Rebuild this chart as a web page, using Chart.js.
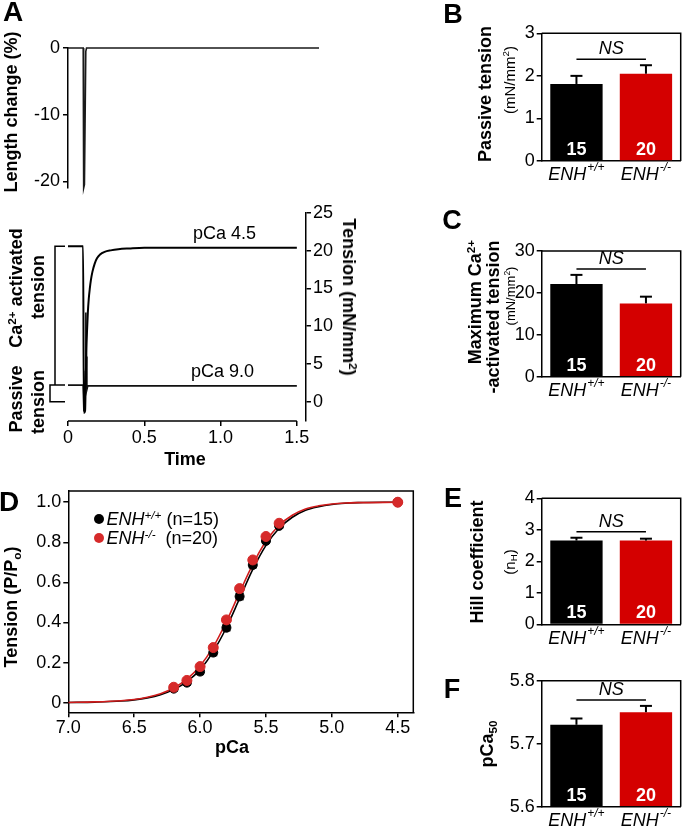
<!DOCTYPE html>
<html><head><meta charset="utf-8">
<script src="https://cdn.jsdelivr.net/npm/chart.js@4.4.1/dist/chart.umd.min.js"></script>
<style>
html,body{margin:0;padding:0;background:#fff;}
#wrap{position:relative;width:683px;height:830px;overflow:hidden;font-family:"Liberation Sans",Arial,Helvetica,sans-serif;color:#000;background:#fff;}
canvas{position:absolute;left:0;top:0;}
.lb{position:absolute;white-space:nowrap;line-height:1;transform-origin:center center;}
.lb sup{font-size:0.65em;vertical-align:0.55em;line-height:0;}
.lb sub{font-size:0.65em;vertical-align:-0.3em;line-height:0;}
.dot{position:absolute;border-radius:50%;}
</style></head>
<body><div id="wrap"></div>
<script>
// ---------------- DATA ----------------
// Panel A (top): length change trace
const timeLength   = [0, 0.100, 0.103, 0.108, 0.117, 0.122, 1.65];
const lengthChange = [0, 0, -21, -20.5, -0.5, 0, 0];
const lengthTicks  = [0, -10, -20];
// Panel A (bottom): tension traces
const timeActive    = [0, 0.099, 0.104, 0.112, 0.116, 0.120, 0.125, 0.130, 0.136, 0.143, 0.150, 0.160, 0.175, 0.190, 0.210, 0.240, 0.280, 0.330, 0.400, 0.500, 0.700, 1.000, 1.500];
const tensionActive = [20.6, 20.6, -1.5, -1.2, 2.5, 6.5, 9.5, 11.8, 13.6, 15.0, 16.1, 17.2, 18.3, 19.0, 19.5, 19.85, 20.05, 20.2, 20.3, 20.4, 20.4, 20.4, 20.4];
const timePassive    = [0, 0.099, 0.104, 0.110, 0.114, 0.117, 0.120, 0.124, 0.130, 1.500];
const tensionPassive = [2.2, 2.2, -1.3, -0.5, 4.0, 11.8, 6.0, 1.6, 2.1, 2.1];
const activeLevel = 20.6, passiveLevel = 2.2, zeroLevel = 0;
const tensionTicks = [0, 5, 10, 15, 20, 25];
const timeTicks    = [0, 0.5, 1.0, 1.5];
const traceLabels  = ['pCa 4.5', 'pCa 9.0'];

// Panel D: tension-pCa
const pCaPoints = [6.2, 6.1, 6.0, 5.9, 5.8, 5.7, 5.6, 5.5, 5.4, 4.5];
const wtTension = [0.07, 0.10, 0.155, 0.25, 0.374, 0.53, 0.687, 0.807, 0.882, 1.0];
const wtErr     = [0.012, 0.012, 0.014, 0.015, 0.015, 0.016, 0.014, 0.012, 0.010, 0.0];
const koTension = [0.077, 0.111, 0.18, 0.275, 0.413, 0.569, 0.712, 0.829, 0.895, 1.0];
const koErr     = [0.008, 0.008, 0.010, 0.010, 0.011, 0.011, 0.010, 0.009, 0.008, 0.0];
const curvePCa  = [7.0, 6.8, 6.6, 6.5, 6.4, 6.3, 6.2, 6.1, 6.0, 5.9, 5.8, 5.7, 5.6, 5.5, 5.4, 5.3, 5.2, 5.1, 5.0, 4.9, 4.8, 4.5];
const wtFit     = [0.001, 0.003, 0.008, 0.014, 0.024, 0.040, 0.065, 0.105, 0.165, 0.255, 0.375, 0.520, 0.665, 0.785, 0.870, 0.925, 0.960, 0.978, 0.989, 0.995, 0.998, 1.0];
const koFit     = [0.001, 0.004, 0.010, 0.016, 0.027, 0.045, 0.073, 0.117, 0.183, 0.278, 0.405, 0.550, 0.690, 0.805, 0.885, 0.935, 0.966, 0.982, 0.991, 0.996, 0.998, 1.0];
const pCaTicks  = [7.0, 6.5, 6.0, 5.5, 5.0, 4.5];
const relTicks  = [0, 0.2, 0.4, 0.6, 0.8, 1.0];

// Bar panels
const groups   = ['ENH+/+', 'ENH-/-'];
const nFibers  = [15, 20];
const passiveTension = [1.81, 2.05];  const passiveErr = [0.19, 0.20];
const maxTension     = [22.1, 17.5];  const maxErr     = [2.2, 1.6];
const hillCoef       = [2.66, 2.66];  const hillErr    = [0.09, 0.06];
const pCa50          = [5.73, 5.75];  const pCa50Err   = [0.01, 0.01];
const passiveTicks = [0, 1, 2, 3];
const maxTicks     = [0, 10, 20, 30];
const hillTicks    = [0, 1, 2, 3, 4];
const pCa50Ticks   = [5.6, 5.7, 5.8];
const sigLabel = 'NS';

// ---------------- HELPERS ----------------
const W = 683, H = 830;
const FONT = '"Liberation Sans", Arial, Helvetica, sans-serif';
Chart.defaults.font.family = FONT;
Chart.defaults.color = '#000';
Chart.defaults.animation = false;
const wrap = document.getElementById('wrap');
const BLACK = '#000000', RED_BAR = '#d40000', RED_PT = '#d62a2a', RED_LINE = '#d01c1c';

function mk() {
  const c = document.createElement('canvas');
  c.width = W; c.height = H; c.style.width = W + 'px'; c.style.height = H + 'px';
  wrap.appendChild(c); return c.getContext('2d');
}
function toPts(xs, ys) { return xs.map((x, i) => ({x: x, y: ys[i]})); }
function yAxis(min, max, ticks, fmt, yw, pos, pad) {
  return {
    type: 'linear', position: pos || 'left', min: min, max: max,
    afterBuildTicks: s => { s.ticks = ticks.map(v => ({value: v})); },
    afterFit: s => { s.width = yw; },
    border: {display: true, color: '#000', width: 1.5},
    grid: {display: true, drawOnChartArea: false, drawTicks: true, tickLength: 5, color: '#000', lineWidth: 1.5},
    ticks: {font: {size: 18}, color: '#000', padding: pad == null ? 3 : pad, callback: fmt}
  };
}
function line(ctx, x1, y1, x2, y2) { ctx.beginPath(); ctx.moveTo(x1, y1); ctx.lineTo(x2, y2); ctx.stroke(); }
function groupHTML(g) { const m = g.match(/^(.*?)([+\-]\/[+\-])$/); return '<i>' + m[1] + '</i><sup><i>' + m[2] + '</i></sup>'; }
function drawGroupLabel(ctx, g, cx, cy) {
  const m = g.match(/^(.*?)([+\-]\/[+\-])$/);
  ctx.font = 'italic 18px ' + FONT; const w1 = ctx.measureText(m[1]).width;
  ctx.font = 'italic 12px ' + FONT; const w2 = ctx.measureText(m[2]).width;
  const x0 = cx - (w1 + w2 + 1) / 2;
  ctx.fillStyle = '#000'; ctx.textAlign = 'left'; ctx.textBaseline = 'middle';
  ctx.font = 'italic 18px ' + FONT; ctx.fillText(m[1], x0, cy);
  ctx.font = 'italic 12px ' + FONT; ctx.fillText(m[2], x0 + w1 + 1, cy - 7);
}
function lab(html, cx, cy, o) {
  o = o || {};
  const d = document.createElement('div'); d.className = 'lb'; d.innerHTML = html;
  d.style.fontSize = (o.size || 18) + 'px';
  d.style.fontWeight = o.bold ? 'bold' : 'normal';
  if (o.italic) d.style.fontStyle = 'italic';
  d.style.left = cx + 'px'; d.style.top = cy + 'px';
  d.style.transform = o.left ? 'translate(0,-50%)' : 'translate(-50%,-50%) rotate(' + (o.rot || 0) + 'deg)';
  wrap.appendChild(d);
}
function dot(cx, cy, r, color) {
  const d = document.createElement('div'); d.className = 'dot';
  d.style.left = (cx - r) + 'px'; d.style.top = (cy - r) + 'px';
  d.style.width = d.style.height = (2 * r) + 'px'; d.style.background = color;
  wrap.appendChild(d);
}
const boxPlugin = {
  id: 'box',
  afterDatasetsDraw(chart) {
    const ctx = chart.ctx, a = chart.chartArea;
    ctx.save(); ctx.strokeStyle = '#000'; ctx.lineWidth = 1.5;
    ctx.beginPath(); ctx.moveTo(a.left, a.top); ctx.lineTo(a.right, a.top); ctx.lineTo(a.right, a.bottom); ctx.stroke();
    ctx.restore();
  }
};

// ---------------- PANEL A (top) ----------------
(function () {
  const area = {l: 68, r: 319, t: 48, b: 188};
  new Chart(mk(), {
    type: 'line',
    data: {datasets: [{data: toPts(timeLength, lengthChange), borderColor: '#1a1a1a', borderWidth: 1.6, pointRadius: 0, tension: 0, clip: false}]},
    options: {
      responsive: false, animation: false,
      layout: {padding: {left: area.l - 68, right: W - area.r, top: area.t, bottom: H - area.b}},
      plugins: {legend: {display: false}, tooltip: {enabled: false}},
      scales: {
        x: {type: 'linear', min: 0, max: 1.65, display: false},
        y: yAxis(-21, 0, lengthTicks, v => String(v), 68, 'left', 3)
      }
    }
  });
})();

// ---------------- PANEL A (bottom) ----------------
(function () {
  const area = {l: 68, r: 306, t: 213, b: 421};
  const yw = 60, xh = 40;
  new Chart(mk(), {
    type: 'line',
    data: {datasets: [
      {data: toPts(timeActive, tensionActive), borderColor: '#000', borderWidth: 2, pointRadius: 0, cubicInterpolationMode: 'monotone', clip: false},
      {data: toPts(timePassive, tensionPassive), borderColor: '#111', borderWidth: 1.6, pointRadius: 0, tension: 0, clip: false}
    ]},
    options: {
      responsive: false, animation: false,
      layout: {padding: {left: area.l, right: W - area.r - yw, top: area.t, bottom: H - area.b - xh}},
      plugins: {legend: {display: false}, tooltip: {enabled: false}},
      scales: {
        x: {type: 'linear', min: 0, max: 1.56,
            afterBuildTicks: s => { s.ticks = timeTicks.map(v => ({value: v})); },
            afterFit: s => { s.height = xh; },
            border: {display: false},
            grid: {display: true, drawOnChartArea: false, drawTicks: true, tickLength: 5, color: '#000', lineWidth: 1.5},
            ticks: {font: {size: 18}, padding: 1, callback: v => (v === 0 ? '0' : v.toFixed(1))}},
        y: yAxis(-2.56, 25, tensionTicks, v => String(v), yw, 'right', 2)
      }
    },
    plugins: [{
      id: 'aextras',
      afterDatasetsDraw(chart) {
        const ctx = chart.ctx, x = chart.scales.x, y = chart.scales.y, a = chart.chartArea;
        ctx.save(); ctx.strokeStyle = '#000'; ctx.lineWidth = 1.5;
        line(ctx, x.getPixelForValue(0), a.bottom, x.getPixelForValue(1.5), a.bottom);
        const yA = y.getPixelForValue(activeLevel), yP = y.getPixelForValue(passiveLevel), y0 = y.getPixelForValue(zeroLevel);
        ctx.beginPath(); ctx.moveTo(65, yA); ctx.lineTo(55, yA); ctx.lineTo(55, yP); ctx.stroke();
        ctx.beginPath(); ctx.moveTo(65, yP); ctx.lineTo(50, yP); ctx.lineTo(50, y0); ctx.lineTo(65, y0); ctx.stroke();
        ctx.restore();
      }
    }]
  });
})();

// ---------------- PANEL D ----------------
(function () {
  const area = {l: 68.3, r: 413.3, t: 491, b: 712.3};
  const yw = 60, xh = 40;
  new Chart(mk(), {
    type: 'scatter',
    data: {datasets: [
      {type: 'scatter', data: toPts(pCaPoints, koTension), backgroundColor: RED_PT, borderColor: RED_PT, pointRadius: 5, order: 0},
      {type: 'scatter', data: toPts(pCaPoints, wtTension), backgroundColor: BLACK, borderColor: BLACK, pointRadius: 4.5, order: 1},
      {type: 'line', data: toPts(curvePCa, koFit), borderColor: RED_LINE, borderWidth: 1.6, pointRadius: 0, showLine: true, cubicInterpolationMode: 'monotone', order: 2},
      {type: 'line', data: toPts(curvePCa, wtFit), borderColor: BLACK, borderWidth: 1.6, pointRadius: 0, showLine: true, cubicInterpolationMode: 'monotone', order: 3}
    ]},
    options: {
      responsive: false, animation: false,
      layout: {padding: {left: area.l - yw, right: W - area.r, top: area.t, bottom: H - area.b - xh}},
      plugins: {legend: {display: false}, tooltip: {enabled: false}},
      scales: {
        x: {type: 'linear', reverse: true, min: 4.382, max: 7.0,
            afterBuildTicks: s => { s.ticks = pCaTicks.map(v => ({value: v})); },
            afterFit: s => { s.height = xh; },
            border: {display: true, color: '#000', width: 1.5},
            grid: {display: true, drawOnChartArea: false, drawTicks: true, tickLength: 5, color: '#000', lineWidth: 1.5},
            ticks: {font: {size: 18}, padding: 0, callback: v => v.toFixed(1)}},
        y: yAxis(-0.048, 1.056, relTicks, v => (v === 0 ? '0' : v.toFixed(1)), yw, 'left', 2)
      }
    },
    plugins: [boxPlugin, {
      id: 'derr',
      beforeDatasetsDraw(chart) {
        const ctx = chart.ctx, y = chart.scales.y;
        ctx.save(); ctx.lineWidth = 1.5;
        [[1, wtTension, wtErr, BLACK], [0, koTension, koErr, RED_PT]].forEach(([di, vals, er, col]) => {
          const meta = chart.getDatasetMeta(di);
          ctx.strokeStyle = col;
          meta.data.forEach((p, i) => {
            if (!er[i]) return;
            const y1 = y.getPixelForValue(vals[i] - er[i]), y2 = y.getPixelForValue(vals[i] + er[i]);
            line(ctx, p.x, y1, p.x, y2); line(ctx, p.x - 4, y1, p.x + 4, y1); line(ctx, p.x - 4, y2, p.x + 4, y2);
          });
        });
        ctx.restore();
      }
    }]
  });
})();

// ---------------- BAR PANELS ----------------
function barPanel(area, vals, errs, ticks, min, max, fmt) {
  const yw = 60, xh = 30;
  new Chart(mk(), {
    type: 'bar',
    data: {labels: groups, datasets: [{data: vals, backgroundColor: [BLACK, RED_BAR], borderWidth: 0, barPercentage: 0.753, categoryPercentage: 1.0, base: min}]},
    options: {
      responsive: false, animation: false,
      layout: {padding: {left: area.l - yw, right: W - area.r, top: area.t, bottom: H - area.b - xh}},
      plugins: {legend: {display: false}, tooltip: {enabled: false}},
      scales: {
        x: {type: 'category', afterFit: s => { s.height = xh; },
            border: {display: true, color: '#000', width: 1.5},
            grid: {display: false}, ticks: {display: false}},
        y: yAxis(min, max, ticks, fmt, yw, 'left', 2)
      }
    },
    plugins: [boxPlugin, {
      id: 'barextras',
      afterDatasetsDraw(chart) {
        const ctx = chart.ctx, y = chart.scales.y, a = chart.chartArea, meta = chart.getDatasetMeta(0);
        ctx.save();
        let top = Infinity;
        meta.data.forEach((bar, i) => {
          const yt = y.getPixelForValue(vals[i] + errs[i]);
          ctx.strokeStyle = '#000'; ctx.lineWidth = 2;
          line(ctx, bar.x, bar.y, bar.x, yt); line(ctx, bar.x - 6, yt, bar.x + 6, yt);
          top = Math.min(top, yt);
          ctx.fillStyle = '#fff'; ctx.font = 'bold 18px ' + FONT; ctx.textAlign = 'center'; ctx.textBaseline = 'middle';
          ctx.fillText(String(nFibers[i]), bar.x, a.bottom - 11);
          drawGroupLabel(ctx, groups[i], bar.x, a.bottom + 14);
        });
        const ly = top - 6, x1 = meta.data[0].x, x2 = meta.data[1].x;
        ctx.strokeStyle = '#000'; ctx.lineWidth = 1.5; line(ctx, x1, ly, x2, ly);
        ctx.fillStyle = '#000'; ctx.font = 'italic 18px ' + FONT; ctx.textAlign = 'center'; ctx.textBaseline = 'middle';
        ctx.fillText(sigLabel, (x1 + x2) / 2, ly - 10);
        ctx.restore();
      }
    }]
  });
}
barPanel({l: 541.7, r: 680.7, t: 33.3, b: 161}, passiveTension, passiveErr, passiveTicks, 0, 3, v => String(v));
barPanel({l: 541.7, r: 680.7, t: 251, b: 376.7}, maxTension, maxErr, maxTicks, 0, 30, v => String(v));
barPanel({l: 541.7, r: 680.7, t: 498.3, b: 624.5}, hillCoef, hillErr, hillTicks, 0, 4, v => String(v));
barPanel({l: 541.7, r: 680.7, t: 680.7, b: 806.7}, pCa50, pCa50Err, pCa50Ticks, 5.6, 5.8, v => v.toFixed(1));

// ---------------- TEXT LABELS ----------------
lab('A', 13, 12, {size: 28, bold: true});
lab('Length change (%)', 11, 112, {bold: true, rot: -90});
lab('Ca<sup>2+</sup> activated', 16, 288, {bold: true, rot: -90});
lab('tension', 38, 287, {bold: true, rot: -90});
lab('Passive', 16, 399, {bold: true, rot: -90});
lab('tension', 38, 402, {bold: true, rot: -90});
lab(traceLabels[0], 224.5, 233, {});
lab(traceLabels[1], 222.5, 371, {});
lab('Tension (mN/mm<sup>2</sup>)', 349, 297, {bold: true, rot: 90});
lab('Time', 185, 459, {bold: true});

lab('D', 9, 502, {size: 28, bold: true});
lab('Tension (P/P<sub>o</sub>)', 11, 607, {bold: true, rot: -90});
lab('pCa', 232, 747, {bold: true});
dot(99.3, 519, 5, BLACK);
lab(groupHTML(groups[0]) + ' (n=' + nFibers[0] + ')', 106.5, 519, {left: true});
dot(99.3, 537.5, 5, RED_PT);
lab(groupHTML(groups[1]) + '&nbsp; (n=' + nFibers[1] + ')', 106.5, 537.5, {left: true});

lab('B', 453, 14, {size: 27, bold: true});
lab('Passive tension', 485, 94, {bold: true, rot: -90});
lab('(mN/mm<sup>2</sup>)', 509, 80, {size: 15, rot: -90});

lab('C', 452, 220, {size: 27, bold: true});
lab('Maximum Ca<sup>2+</sup>', 475, 302, {bold: true, rot: -90});
lab('-activated tension', 493, 317, {bold: true, rot: -90});
lab('(mN/mm<sup>2</sup>)', 510, 296, {size: 13, rot: -90});

lab('E', 453, 498, {size: 27, bold: true});
lab('Hill coefficient', 477, 562, {bold: true, rot: -90});
lab('(n<sub>H</sub>)', 509, 562, {size: 15, rot: -90});

lab('F', 452, 689, {size: 27, bold: true});
lab('pCa<sub>50</sub>', 487, 744, {bold: true, rot: -90});
</script>
</body></html>
